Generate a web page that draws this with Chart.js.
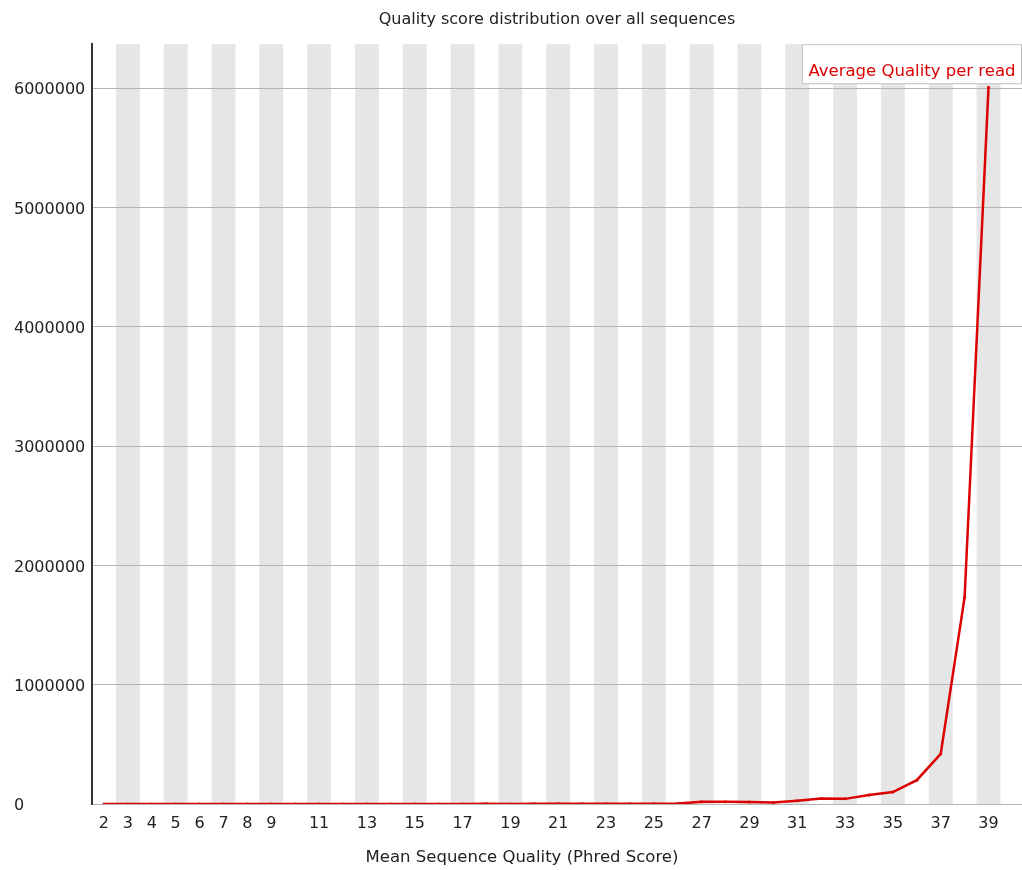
<!DOCTYPE html>
<html>
<head>
<meta charset="utf-8">
<script src="https://cdn.jsdelivr.net/npm/chart.js@4/dist/chart.umd.min.js"></script>
<style>
  body { margin: 0; background: #fff; }
  #wrap { width: 1022px; height: 870px; position: relative; }
</style>
</head>
<body>
<div id="wrap"><canvas id="qualChart"></canvas></div>
<script>
// mean phred score per read (categories) and read counts
const qualities = [2, 3, 4, 5, 6, 7, 8, 9, 10, 11, 12, 13, 14, 15, 16, 17, 18, 19, 20,
  21, 22, 23, 24, 25, 26, 27, 28, 29, 30, 31, 32, 33, 34, 35, 36, 37, 38, 39];
const readCounts = [900, 350, 180, 260, 310, 290, 420, 380, 510, 470, 620, 560, 700, 810, 760, 950,
  1100, 1040, 1250, 1400, 1320, 1600, 1900, 2300, 3200, 19000, 18000, 17500, 12000, 28000,
  47000, 43000, 76000, 100000, 200000, 420000, 1734000, 6010000];
const xTickLabels = [2, 3, 4, 5, 6, 7, 8, 9, 11, 13, 15, 17, 19, 21, 23, 25, 27, 29, 31, 33, 35, 37, 39];
const yTickValues = [0, 1000000, 2000000, 3000000, 4000000, 5000000, 6000000];
const seriesName = "Average Quality per read";
const xAxisName = "Mean Sequence Quality (Phred Score)";

const red = "#dd0000";
const fontFam = "'DejaVu Sans', Verdana, sans-serif";

// grey stripes behind every odd quality value
const stripes = {
  id: "stripes",
  beforeDraw(chart) {
    const { ctx, chartArea, scales } = chart;
    ctx.save();
    ctx.fillStyle = "#e6e6e6";
    qualities.forEach(q => {
      if (q % 2 === 1) {
        const x0 = scales.x.getPixelForValue(q - 0.5);
        const x1 = scales.x.getPixelForValue(q + 0.5);
        ctx.fillRect(x0, chartArea.top, x1 - x0, chartArea.bottom - chartArea.top);
      }
    });
    ctx.restore();
  }
};

// boxed legend in the top right corner + x axis name centred on the page
const boxLegend = {
  id: "boxLegend",
  afterDatasetsDraw(chart) {
    const { ctx, chartArea } = chart;
    const label = chart.data.datasets[0].label;
    ctx.save();
    ctx.font = "16.5px " + fontFam;
    const w = ctx.measureText(label).width + 12;
    const h = 39;
    const x = chartArea.right - w - 0.5;
    const y = chartArea.top + 0.5;
    ctx.fillStyle = "#fff";
    ctx.fillRect(x, y, w, h);
    ctx.strokeStyle = "#c4c4c4";
    ctx.lineWidth = 1;
    ctx.strokeRect(x, y, w, h);
    ctx.fillStyle = red;
    ctx.textBaseline = "middle";
    ctx.fillText(label, x + 6, y + 27);

    ctx.fillStyle = "#222";
    ctx.textAlign = "center";
    ctx.fillText(xAxisName, chart.width / 2 + 11, chart.height - 12);
    ctx.restore();
  }
};

const ctx = document.getElementById("qualChart").getContext("2d");
const chart = new Chart(ctx, {
  type: "line",
  data: {
    datasets: [
      {
        label: seriesName,
        data: qualities.map((q, i) => ({ x: q, y: readCounts[i] })),
        borderColor: red,
        backgroundColor: red,
        borderWidth: 2.5,
        pointRadius: 1.5,
        pointBorderWidth: 0,
        tension: 0,
      },
    ],
  },
  options: {
    responsive: true,
    maintainAspectRatio: false,
    animation: false,
    layout: { autoPadding: false, padding: { left: 14, right: 0, top: 0, bottom: 0 } },
    plugins: {
      legend: { display: false },
      tooltip: { enabled: false },
      title: {
        display: true,
        fullSize: false,
        text: "Quality score distribution over all sequences",
        color: "#222",
        font: { family: fontFam, size: 16, weight: "normal" },
        padding: { top: 10, bottom: 15 },
      },
    },
    scales: {
      x: {
        type: "linear",
        min: 1.5,
        max: 40.4,
        afterBuildTicks: s => { s.ticks = xTickLabels.map(v => ({ value: v })); },
        afterFit: s => { s.height = 66; s.paddingLeft = 0; s.paddingRight = 0; },
        grid: { display: false, drawTicks: false },
        border: { display: false },
        ticks: {
          color: "#222",
          padding: 10,
          maxRotation: 0,
          autoSkip: false,
          font: { family: fontFam, size: 16 },
        },
      },
      y: {
        min: 0,
        max: 6370000,
        afterBuildTicks: s => { s.ticks = yTickValues.map(v => ({ value: v })); },
        afterFit: s => { s.width = 78; },
        grid: { color: "#b4b4b4", lineWidth: 1, drawTicks: false },
        border: { display: true, color: "#333", width: 2 },
        ticks: {
          color: "#222",
          crossAlign: "far",
          padding: 8,
          labelOffset: 2,
          font: { family: fontFam, size: 16 },
          callback: v => String(v),
        },
      },
    },
  },
  plugins: [stripes, boxLegend],
});
</script>
</body>
</html>
